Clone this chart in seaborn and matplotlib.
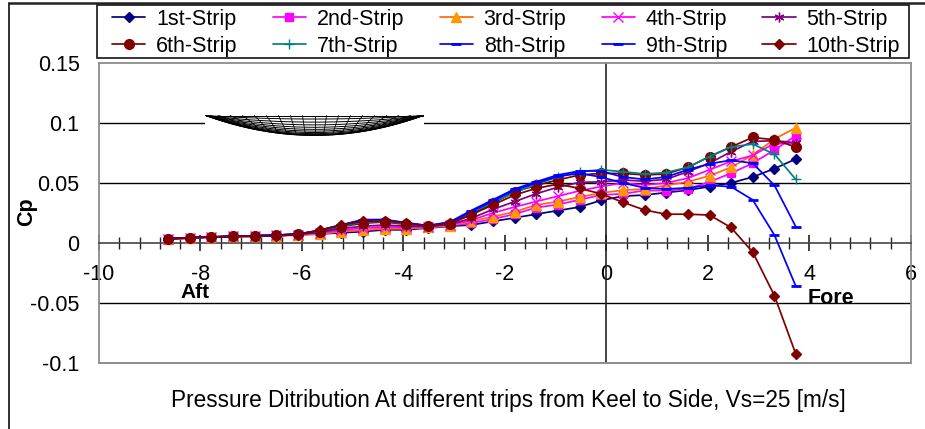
"""
plot.py
=======
Pressure coefficient along the hull for ten strips from keel to side.
"""

import numpy as np
import pandas as pd
import matplotlib.pyplot as plt
import seaborn as sns
from matplotlib.lines import Line2D
from matplotlib.patches import Rectangle

# ── Data ──────────────────────────────────────────────────────────────────────
position = [-8.64, -8.21, -7.79, -7.36, -6.93, -6.51, -6.08, -5.65, -5.23, -4.80,
            -4.37, -3.95, -3.52, -3.09, -2.67, -2.24, -1.81, -1.39, -0.96, -0.53,
            -0.11, 0.32, 0.75, 1.17, 1.60, 2.03, 2.45, 2.88, 3.31, 3.73]

strip_1 = [.003, .004, .005, .0055, .0055, .006, .007, .0075, .0085, .0095,
           .011, .011, .0125, .014, .015, .018, .021, .024, .027, .030,
           .0355, .039, .040, .042, .044, .047, .050, .055, .062, .070]
strip_2 = [.0035, .0045, .005, .0055, .006, .006, .007, .008, .0095, .0105,
           .012, .012, .013, .0145, .0165, .020, .024, .0295, .032, .036,
           .040, .041, .0437, .0437, .045, .051, .058, .0665, .0775, .0895]
strip_3 = [.003, .004, .005, .0055, .0055, .006, .0065, .0075, .0095, .011,
           .012, .012, .013, .0145, .018, .022, .026, .0317, .0345, .0383,
           .0417, .044, .045, .048, .051, .056, .063, .0733, .0867, .096]
strip_4 = [.0035, .0045, .005, .0055, .006, .0065, .007, .0085, .0105, .0125,
           .0135, .013, .0135, .015, .019, .025, .030, .0345, .039, .0435,
           .047, .050, .0483, .050, .054, .061, .068, .073, .083, .083]
strip_5 = [.0035, .0045, .005, .0055, .006, .0065, .007, .009, .012, .014,
           .015, .014, .014, .0155, .0205, .028, .0345, .041, .0465, .0505,
           .051, .0525, .0515, .053, .0594, .0665, .076, .0846, .0853, .0836]
strip_6 = [.0035, .0045, .005, .0055, .006, .0065, .0075, .0095, .0135, .0165,
           .0175, .0155, .014, .016, .0235, .033, .0427, .048, .0525, .0567,
           .058, .058, .0567, .0575, .063, .072, .080, .088, .086, .080]
strip_7 = [.0035, .0045, .005, .0055, .006, .0065, .0075, .010, .014, .0175,
           .018, .016, .014, .0165, .0245, .034, .042, .049, .055, .0595,
           .061, .0595, .0575, .0587, .063, .072, .080, .0825, .074, .053]
strip_8 = [.0035, .0045, .005, .0055, .006, .0065, .0075, .0105, .015, .0195,
           .0195, .017, .0145, .0175, .027, .036, .045, .051, .0567, .060,
           .060, .055, .053, .055, .061, .066, .069, .0665, .048, .0136]
strip_9 = [.0035, .0045, .005, .0055, .006, .0065, .0075, .0105, .015, .019,
           .0195, .0165, .0145, .017, .026, .035, .044, .050, .0555, .058,
           .055, .050, .046, .045, .046, .048, .047, .036, .0065, -.036]
strip_10 = [.0035, .0045, .005, .0055, .0055, .006, .007, .0108, .015, .018,
            .0185, .0165, .014, .0165, .0235, .0317, .040, .0455, .049, .0455,
            .041, .034, .0275, .024, .024, .0233, .013, -.0075, -.044, -.0925]

strip_values = [strip_1, strip_2, strip_3, strip_4, strip_5,
                strip_6, strip_7, strip_8, strip_9, strip_10]
strip_names = ["1st-Strip", "2nd-Strip", "3rd-Strip", "4th-Strip", "5th-Strip",
               "6th-Strip", "7th-Strip", "8th-Strip", "9th-Strip", "10th-Strip"]

x_ticks = [-10, -8, -6, -4, -2, 0, 2, 4, 6]
x_labels = ["-10", "-8", "-6", "-4", "-2", "0", "2", "4", "6"]
y_ticks = [-0.1, -0.05, 0, 0.05, 0.1, 0.15]
y_labels = ["-0.1", "-0.05", "0", "0.05", "0.1", "0.15"]

# ── Styles ────────────────────────────────────────────────────────────────────
line_colors = ["#000080", "#FF00FF", "#FF6A00", "#FF00FF", "#800080",
               "#800000", "#008080", "#0000FF", "#0000FF", "#800000"]
face_colors = ["#000080", "#FF00FF", "#FF9900", "#FF00FF", "#800080",
               "#800000", "#008080", "#0000FF", "#0000FF", "#800000"]
markers = ["D", "s", "^", "x", (6, 2, 0), "o", "+", "_", "_", "D"]
marker_sizes = [5, 6, 7.5, 6.5, 7, 7, 7.5, 7, 7.5, 5]

W, H = 925, 429
BOX_GRAY = "#8c8c8c"


def px_rect(left, top, right, bottom):
    """Figure-fraction rectangle from pixel edges (y measured from the top)."""
    return [left / W, 1 - bottom / H, (right - left) / W, (bottom - top) / H]


def draw_hull(fig):
    """Small wire-frame hull section sitting over the 0.1 grid line."""
    hull = fig.add_axes(px_rect(205, 115, 424, 136))
    hull.set_xlim(-1.01, 1.01)
    hull.set_ylim(-1.03, 0.03)
    hull.axis("off")
    hull.add_patch(Rectangle((0, 0), 1, 1, transform=hull.transAxes,
                             facecolor="white", edgecolor="none", zorder=0))

    span = np.linspace(-1, 1, 200)
    for depth in 1 - np.linspace(1, 0, 13) ** 2.2:
        hull.plot(span, -depth * (1 - span ** 2), color="black", lw=0.7)
    for station in np.linspace(-1, 1, 19):
        s = np.linspace(0, 1, 20)
        xs = station * (1 - 0.25 * s)
        hull.plot(xs, -s * (1 - xs ** 2), color="black", lw=0.6)


def main():
    sns.set_theme(style="white")
    plt.rcParams["font.family"] = ["Liberation Sans", "DejaVu Sans"]
    plt.rcParams["axes.unicode_minus"] = False

    fig = plt.figure(figsize=(W / 100, H / 100), dpi=100)
    ax = fig.add_axes(px_rect(99, 63, 911, 363))

    for name, values, color, face, marker, size in zip(
        strip_names, strip_values, line_colors, face_colors, markers, marker_sizes
    ):
        frame = pd.DataFrame({"position": position, "cp": values})
        sns.lineplot(
            data=frame, x="position", y="cp", ax=ax, label=name, color=color,
            marker=marker, markersize=size, markerfacecolor=face,
            markeredgecolor=face, markeredgewidth=1.0 if marker != "_" else 2.0,
            linewidth=1.25, errorbar=None, sort=False, clip_on=False, zorder=3,
        )

    ax.set_xlim(-10, 6)
    ax.set_ylim(-0.1, 0.15)
    ax.set_xlabel("")
    ax.set_ylabel("")

    # Grid lines and the box around the plot
    for level in y_ticks[1:-1]:
        if level != 0:
            ax.axhline(level, color="black", lw=1.0, zorder=1)
    ax.axvline(0, color="#222222", lw=1.2, zorder=1)
    ax.axhline(-0.1, color=BOX_GRAY, lw=1.4, zorder=1, clip_on=False)
    for side in ["top", "left", "right"]:
        ax.spines[side].set_color(BOX_GRAY)
        ax.spines[side].set_linewidth(1.3)

    # x axis crosses at zero, labels stay well below it
    ax.spines["bottom"].set_position(("data", 0))
    ax.spines["bottom"].set_color("#444444")
    ax.spines["bottom"].set_linewidth(1.2)
    ax.set_xticks(x_ticks)
    ax.set_xticklabels(x_labels)
    ax.set_xticks(np.arange(-10, 6.01, 0.4), minor=True)
    ax.tick_params(axis="x", which="major", bottom=True, direction="inout",
                   length=12, width=1.2, color="#222222", labelsize=15.5, pad=9,
                   labelcolor="black")
    ax.tick_params(axis="x", which="minor", bottom=True, direction="inout",
                   length=9, width=1.0, color="#222222")
    ax.set_yticks(y_ticks)
    ax.set_yticklabels(y_labels)
    ax.tick_params(axis="y", left=False, labelsize=15.5, pad=8, labelcolor="black")

    ax.text(-8.4, -0.041, "Aft", fontsize=15, fontweight="bold", color="black",
            va="center", ha="left")
    ax.text(3.96, -0.046, "Fore", fontsize=15.5, fontweight="bold", color="black",
            va="center", ha="left")

    fig.text(27 / W, 1 - 212 / H, "Cp", fontsize=15.5, fontweight="bold", color="black",
             rotation=90, ha="center", va="center")
    fig.text(508 / W, 1 - 401 / H,
             "Pressure Ditribution At different trips from Keel to Side, Vs=25 [m/s]",
             fontsize=16.3, ha="center", va="center", color="black")

    # matplotlib fills legend columns first, the reference reads row by row
    handles, labels = ax.get_legend_handles_labels()
    order = [i + j for i in range(5) for j in (0, 5)]
    ax.legend(
        [handles[i] for i in order], [labels[i] for i in order],
        loc="lower left", bbox_to_anchor=px_rect(112, 5, 900, 57),
        bbox_transform=fig.transFigure, mode="expand", ncol=5, fontsize=15.5,
        frameon=False, borderaxespad=0, borderpad=0, labelspacing=0.3,
        handlelength=1.55, handletextpad=0.5, columnspacing=1.2,
        labelcolor="black",
    )
    left, bottom, width, height = px_rect(97, 5, 909, 58)
    fig.add_artist(Rectangle((left, bottom), width, height, transform=fig.transFigure,
                             facecolor="none", edgecolor="black", lw=1.1))

    draw_hull(fig)

    # Frame edges left over from the page the chart was pasted on
    fig.add_artist(Line2D([9 / W, 1], [1 - 3 / H, 1 - 3 / H], color="#222222", lw=1.8))
    fig.add_artist(Line2D([9 / W, 9 / W], [0, 1 - 3 / H], color="#222222", lw=1.3))

    fig.savefig("out.png", dpi=100)
    plt.close(fig)


if __name__ == "__main__":
    main()
